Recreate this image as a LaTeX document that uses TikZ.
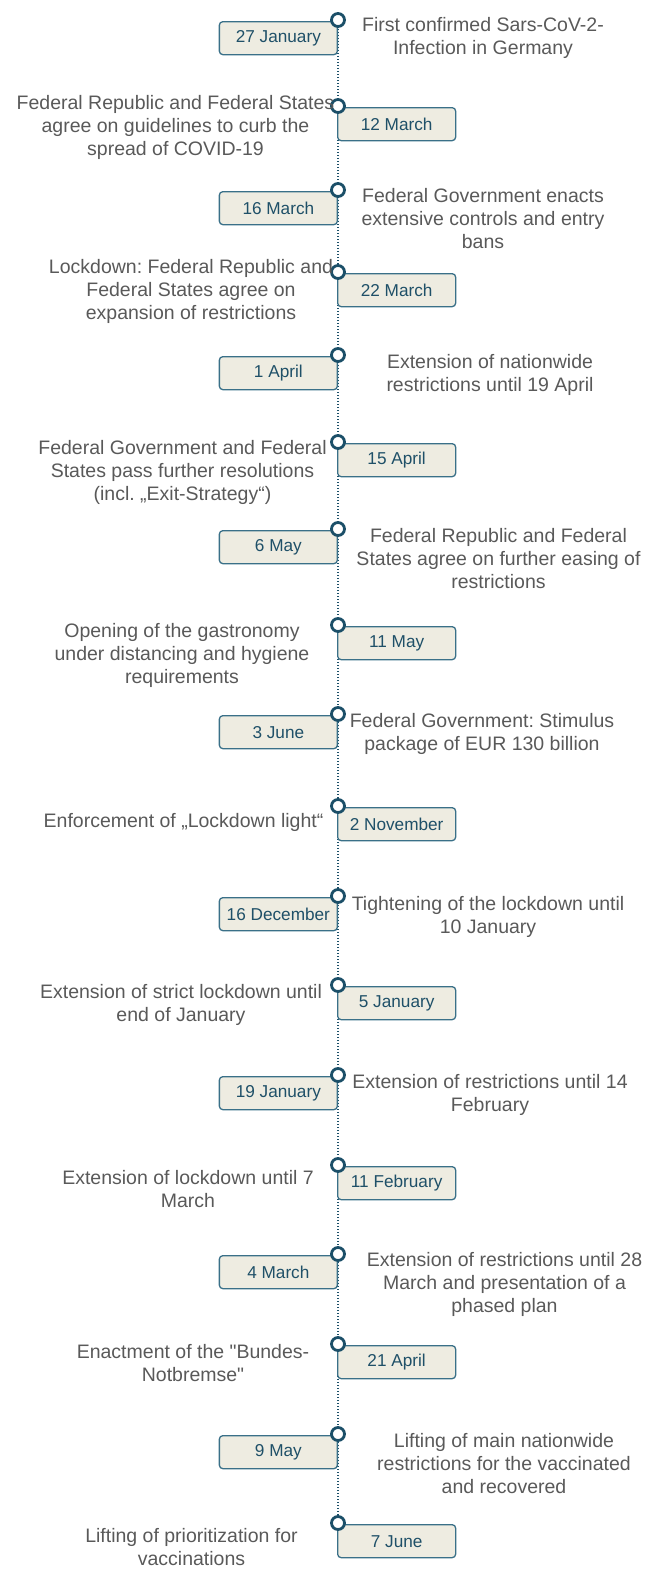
\documentclass[tikz,border=0pt]{standalone}
\usepackage{fontspec}
\setmainfont{Liberation Sans}[Ligatures=TeXOff]
\frenchspacing
\usetikzlibrary{backgrounds}
\definecolor{txtgray}{HTML}{595959}
\definecolor{datetxt}{HTML}{1F5068}
\definecolor{dateedge}{HTML}{3A7088}
\definecolor{datefill}{HTML}{EEECE1}
\definecolor{ringcol}{HTML}{1B4F68}
\tikzset{
  x=1pt, y=-1pt,
  datebox/.style={draw=dateedge, line width=1.3pt, fill=datefill, rounded corners=3.5pt,
    minimum width=118pt, minimum height=33pt, inner sep=0pt, text=datetxt,
    font=\fontsize{17.2}{19}\selectfont},
  ring/.style={circle, draw=ringcol, line width=2.8pt, fill=white, minimum size=13pt, inner sep=0pt},
  note/.style={align=center, anchor=north, inner sep=0pt, text=txtgray,
    font=\fontsize{19.5}{23.3}\selectfont},
  timeline/.style={draw=ringcol, line width=1.5pt, dash pattern=on 1.3pt off 1.7pt},
}
% \event{id}{y of ring}{l or r}{date}{x of note}{baseline of first note line}{note}
\newcommand{\event}[7]{%
  \if l#3
    \node[datebox, anchor=north east] (d#1) at (338,#2+1) {#4};
  \else
    \node[datebox, anchor=north west] (d#1) at (337,#2+1) {#4};
  \fi
  \node[ring] (c#1) at (338,#2) {};
  \node[note] (n#1) at (#5,#6-16.3) {\strut #7};
}
\begin{document}
\begin{tikzpicture}
\useasboundingbox (0,0) rectangle (656,1569);
\event{1}{20}{l}{27 January}{483}{31}{First confirmed Sars-CoV-2-\\Infection in Germany}
\event{2}{106}{r}{12 March}{175.5}{109}{Federal Republic and Federal States\\agree on guidelines to curb the\\spread of COVID-19}
\event{3}{190}{l}{16 March}{483}{202}{Federal Government enacts\\extensive controls and entry\\bans}
\event{4}{272}{r}{22 March}{191}{273}{Lockdown: Federal Republic and\\Federal States agree on\\expansion of restrictions}
\event{5}{355}{l}{1 April}{490}{368}{Extension of nationwide\\restrictions until 19 April}
\event{6}{442}{r}{15 April}{182.5}{454}{Federal Government and Federal\\States pass further resolutions\\(incl. „Exit-Strategy“)}
\event{7}{529}{l}{6 May}{498.5}{542}{Federal Republic and Federal\\States agree on further easing of\\restrictions}
\event{8}{625}{r}{11 May}{182}{637}{Opening of the gastronomy\\under distancing and hygiene\\requirements}
\event{9}{714}{l}{3 June}{482}{727}{Federal Government: Stimulus\\package of EUR 130 billion}
\event{10}{806}{r}{2 November}{183.5}{827}{Enforcement of „Lockdown light“}
\event{11}{896}{l}{16 December}{488}{910}{Tightening of the lockdown until\\10 January}
\event{12}{985}{r}{5 January}{181}{998}{Extension of strict lockdown until\\end of January}
\event{13}{1075}{l}{19 January}{490}{1088}{Extension of restrictions until 14\\February}
\event{14}{1165}{r}{11 February}{188}{1184}{Extension of lockdown until 7\\March}
\event{15}{1254}{l}{4 March}{504.5}{1266}{Extension of restrictions until 28\\March and presentation of a\\phased plan}
\event{16}{1344}{r}{21 April}{193}{1358}{Enactment of the "Bundes-\\Notbremse"}
\event{17}{1434}{l}{9 May}{504}{1447}{Lifting of main nationwide\\restrictions for the vaccinated\\and recovered}
\event{18}{1523}{r}{7 June}{191.5}{1542}{Lifting of prioritization for\\vaccinations}
\begin{pgfonlayer}{background}
  \draw[timeline] (c1.center) -- (c18.center);
\end{pgfonlayer}
\end{tikzpicture}
\end{document}
